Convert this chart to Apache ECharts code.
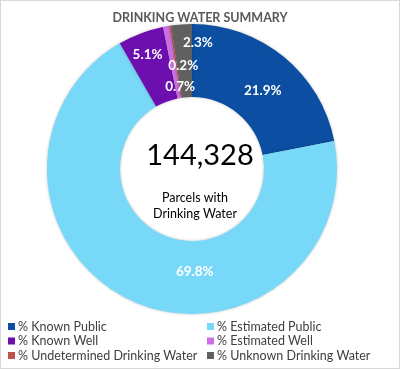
<!DOCTYPE html>
<html>
<head>
<meta charset="utf-8">
<script src="https://cdn.jsdelivr.net/npm/echarts@6/dist/echarts.min.js"></script>
<style>
html,body{margin:0;padding:0;background:#fff;}
#c{width:400px;height:369px;box-sizing:border-box;border:1px solid #d9d9d9;}
</style>
</head>
<body>
<div id="c"></div>
<script>
const categories = ['% Known Public','% Estimated Public','% Known Well','% Estimated Well','% Undetermined Drinking Water','% Unknown Drinking Water'];
const values = [21.9, 69.8, 5.1, 0.7, 0.2, 2.3];
const colors = ['#0b4ea2','#78d8f8','#6c0fae','#cc6fe4','#c0504d','#606060'];
const labelOffsets = [[0,8],[49,1],[-5,-10],[8,27],[8,7],[14,-15]];
const totalParcels = '144,328';

const font = 'Lato, "Open Sans", sans-serif';
const chart = echarts.init(document.getElementById('c'), null, {renderer:'canvas'});
const data = categories.map((n,i)=>({
  name:n, value:values[i],
  itemStyle:{color:colors[i]},
  label:{offset:labelOffsets[i]}
}));
const legendText = {fontFamily:font,fontSize:12.5,color:'#404040',padding:[0,0,0,-2]};
chart.setOption({
  animation:false,
  title:{text:'DRINKING WATER SUMMARY',left:'center',top:5,
    textStyle:{fontFamily:font,fontSize:12.5,fontWeight:'bold',color:'#595959'}},
  legend:[
    {orient:'vertical',left:2,top:319,padding:[0,5],itemWidth:7,itemHeight:7,itemGap:1.5,icon:'rect',
     data:[categories[0],categories[2],categories[4]],textStyle:legendText},
    {orient:'vertical',left:201,top:319,padding:[0,5],itemWidth:7,itemHeight:7,itemGap:1.5,icon:'rect',
     data:[categories[1],categories[3],categories[5]],textStyle:legendText}
  ],
  graphic:[
    {type:'text',left:'center',top:140,style:{text:totalParcels,fontFamily:font,fontSize:29,fill:'#000'},
     x:4},
    {type:'text',style:{text:'Parcels with\nDrinking Water',fontFamily:font,fontSize:12.5,fill:'#000',
      align:'center',verticalAlign:'top',lineHeight:16},x:194,y:189}
  ],
  series:[{
    type:'pie',
    center:[191,168],
    radius:[72,145],
    startAngle:90,
    clockwise:true,
    avoidLabelOverlap:false,
    data:data,
    itemStyle:{shadowBlur:3,shadowColor:'rgba(0,0,0,0.25)'},
    label:{show:true,position:'inside',formatter:p=>p.value.toFixed(1)+'%',
      fontFamily:font,fontSize:13.5,fontWeight:'bold',color:'#fff'},
    labelLine:{show:false},
    emphasis:{disabled:true}
  }]
});
</script>
</body>
</html>
